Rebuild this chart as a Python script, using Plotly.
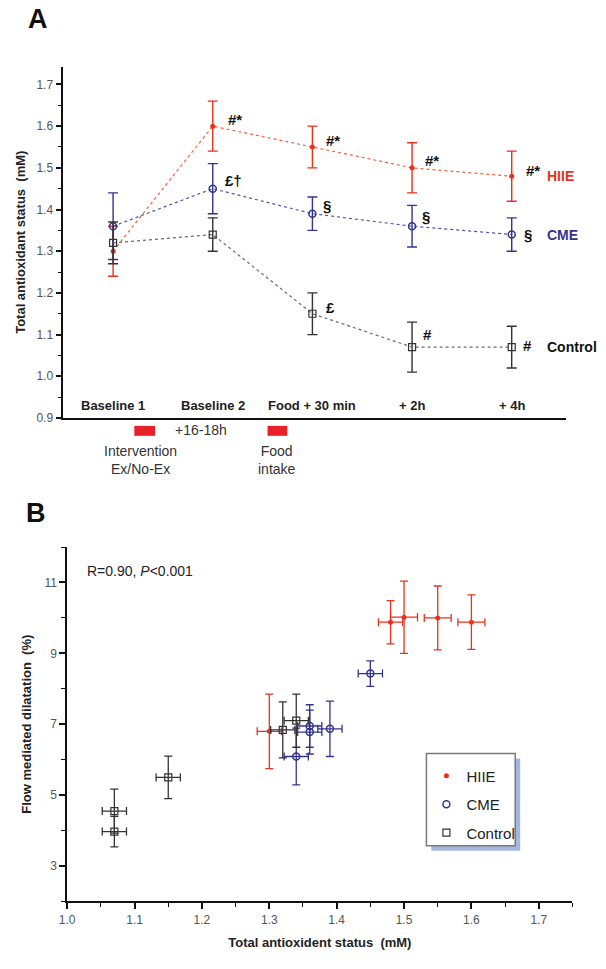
import plotly.graph_objects as go

W, H = 606, 969

# ---------------- Panel A data ----------------
timepoints = ["Baseline 1", "Baseline 2", "Food + 30 min", "+ 2h", "+ 4h"]
tp_pos = [0, 1, 2, 3, 4]

tas_hiie = [1.30, 1.60, 1.55, 1.50, 1.48]
tas_hiie_err = [0.06, 0.06, 0.05, 0.06, 0.06]
tas_cme = [1.36, 1.45, 1.39, 1.36, 1.34]
tas_cme_err = [0.08, 0.06, 0.04, 0.05, 0.04]
tas_ctrl = [1.32, 1.34, 1.15, 1.07, 1.07]
tas_ctrl_err = [0.05, 0.04, 0.05, 0.06, 0.05]

# significance marks per timepoint
sig_hiie = ["", "#*", "#*", "#*", "#*"]
sig_cme = ["", "£†", "§", "§", "§"]
sig_ctrl = ["", "", "£", "#", "#"]

# ---------------- Panel B data ----------------
fmd_hiie_x = [1.30, 1.60, 1.55, 1.50, 1.48]
fmd_hiie_xerr = [0.018, 0.02, 0.02, 0.02, 0.018]
fmd_hiie_y = [6.80, 9.88, 10.00, 10.02, 9.88]
fmd_hiie_yerr = [1.05, 0.77, 0.90, 1.02, 0.61]

fmd_cme_x = [1.36, 1.45, 1.39, 1.36, 1.34]
fmd_cme_xerr = [0.018, 0.018, 0.018, 0.018, 0.018]
fmd_cme_y = [6.95, 8.43, 6.87, 6.78, 6.09]
fmd_cme_yerr = [0.60, 0.36, 0.78, 0.62, 0.80]

fmd_ctrl_x = [1.32, 1.34, 1.15, 1.07, 1.07]
fmd_ctrl_xerr = [0.018, 0.018, 0.018, 0.018, 0.018]
fmd_ctrl_y = [6.84, 7.10, 5.50, 4.55, 3.97]
fmd_ctrl_yerr = [0.79, 0.75, 0.60, 0.62, 0.43]

RED = "#e8321e"
RED_LINE = "#f0643f"
BLUE = "#34348f"
BLUE_LINE = "#5151b0"
BLACK = "#333333"
BLACK_LINE = "#6a6a6a"
FONT = "Liberation Sans, Arial, sans-serif"


def px(x):
    return x / W


def py(y):
    return 1 - y / H


fig = go.Figure()

groups = [
    ("HIIE", tas_hiie, tas_hiie_err, RED, RED_LINE, dict(symbol="circle", size=5, color=RED)),
    ("CME", tas_cme, tas_cme_err, BLUE, BLUE_LINE,
     dict(symbol="circle-open", size=7, color=BLUE, line=dict(width=1.5, color=BLUE))),
    ("Control", tas_ctrl, tas_ctrl_err, BLACK, BLACK_LINE,
     dict(symbol="square-open", size=7, color=BLACK, line=dict(width=1.2, color=BLACK))),
]

for name, vals, errs, col, lcol, mk in groups:
    fig.add_trace(go.Scatter(
        x=tp_pos, y=vals, mode="lines+markers", name=name, showlegend=False,
        line=dict(color=lcol, width=1.2, dash="dot"),
        marker=mk,
        error_y=dict(type="data", array=errs, color=col, thickness=1.4, width=5),
        xaxis="x", yaxis="y",
    ))

# ---------------- Panel B traces ----------------
b_groups = [
    ("HIIE", fmd_hiie_x, fmd_hiie_xerr, fmd_hiie_y, fmd_hiie_yerr, RED,
     dict(symbol="circle", size=5, color=RED)),
    ("CME", fmd_cme_x, fmd_cme_xerr, fmd_cme_y, fmd_cme_yerr, BLUE,
     dict(symbol="circle-open", size=7, color=BLUE, line=dict(width=1.5, color=BLUE))),
    ("Control", fmd_ctrl_x, fmd_ctrl_xerr, fmd_ctrl_y, fmd_ctrl_yerr, BLACK,
     dict(symbol="square-open", size=7, color=BLACK, line=dict(width=1.2, color=BLACK))),
]
for name, x, xe, y, ye, col, mk in b_groups:
    fig.add_trace(go.Scatter(
        x=x, y=y, mode="markers", name=name, legendgroup=name,
        marker=mk,
        error_x=dict(type="data", array=xe, color=col, thickness=1.3, width=4),
        error_y=dict(type="data", array=ye, color=col, thickness=1.3, width=4),
        xaxis="x2", yaxis="y2",
    ))

# ---------------- annotations ----------------
ann = []
# category labels inside panel A
for pos, lab in zip(tp_pos, timepoints):
    ann.append(dict(x=pos, y=0.931, xref="x", yref="y", text=f"<b>{lab}</b>",
                    showarrow=False, font=dict(size=13, color="#222")))

# significance marks (pixel offsets from the point)
sig_offsets = {
    "HIIE": [(0, 0), (13, 7), (12, 6), (11, 7), (12, 6)],
    "CME": [(0, 0), (10, 8), (9, 8), (8, 10), (10, 0)],
    "Control": [(0, 0), (0, 0), (12, 6), (9, 13), (9, 2)],
}
for (name, vals, *_), sig in zip(groups, [sig_hiie, sig_cme, sig_ctrl]):
    for pos, v, s, off in zip(tp_pos, vals, sig, sig_offsets[name]):
        if s:
            ann.append(dict(x=pos, y=v, xref="x", yref="y", text=f"<b>{s}</b>",
                            showarrow=False, xanchor="left", xshift=off[0], yshift=off[1],
                            font=dict(size=15, color="#111")))

# group labels at right of panel A
for (name, vals, _e, col, *_r) in groups:
    ann.append(dict(x=tp_pos[-1], y=vals[-1], xref="x", yref="y", text=f"<b>{name}</b>",
                    showarrow=False, xanchor="left", xshift=33,
                    font=dict(size=14, color=col if name != "Control" else "#111")))


def paper_text(x, y, text, size=14, color="#333", xanchor="center"):
    return dict(x=px(x), y=py(y), xref="paper", yref="paper", text=text, showarrow=False,
                xanchor=xanchor, yanchor="middle", font=dict(size=size, color=color))


ann += [
    paper_text(196, 433, "+16-18h"),
    paper_text(134, 463, "Intervention<br>Ex/No-Ex"),
    paper_text(273, 463, "Food<br>intake"),
    paper_text(30, 19, "<b>A</b>", size=27, color="#111"),
    paper_text(28, 517, "<b>B</b>", size=27, color="#111"),
    paper_text(78, 575, "R=0.90, <i>P</i>&lt;0.001", color="#222", xanchor="left"),
]

shapes = [
    dict(type="rect", xref="paper", yref="paper", x0=px(128), x1=px(149), y0=py(439), y1=py(429),
         fillcolor="#e8202a", line=dict(width=0)),
    dict(type="rect", xref="paper", yref="paper", x0=px(263), x1=px(283), y0=py(439), y1=py(429),
         fillcolor="#e8202a", line=dict(width=0)),
    # legend box with shadow
    dict(type="rect", xref="paper", yref="paper", x0=px(429), x1=px(519), y0=py(857), y1=py(764),
         fillcolor="#a3b8e0", line=dict(width=0)),
    dict(type="rect", xref="paper", yref="paper", x0=px(424), x1=px(514), y0=py(852), y1=py(759),
         fillcolor="white", line=dict(color="#7a7a7a", width=1.5)),
]

axis_common = dict(showline=True, linecolor="#111", linewidth=1.5, showgrid=False, zeroline=False,
                   tickfont=dict(size=12, color="#555", family=FONT))

fig.update_layout(
    width=W, height=H,
    margin=dict(l=0, r=0, t=0, b=0),
    paper_bgcolor="white", plot_bgcolor="white",
    font=dict(family=FONT),
    xaxis=dict(domain=[px(56), px(565)], range=[-0.5, 4.54], showline=True, linecolor="#111",
               linewidth=1.5, showgrid=False, zeroline=False, showticklabels=False, ticks="",
               anchor="y"),
    yaxis=dict(domain=[py(421), py(67)], range=[0.9, 1.743], anchor="x",
               tickvals=[0.9, 1.0, 1.1, 1.2, 1.3, 1.4, 1.5, 1.6, 1.7],
               ticktext=["0.9", "1.0", "1.1", "1.2", "1.3", "1.4", "1.5", "1.6", "1.7"],
               ticks="outside", ticklen=6, tickwidth=1.5, tickcolor="#111",
               minor=dict(dtick=0.05, tick0=0.9, ticks="outside", ticklen=4, tickcolor="#111", tickwidth=1.2),
               title=dict(text="<b>Total antioxidant status  (mM)</b>", standoff=8,
                          font=dict(size=13, color="#222")),
               **axis_common),
    xaxis2=dict(domain=[px(60), px(572)], range=[1.0, 1.75], anchor="y2",
                tickvals=[1.0, 1.1, 1.2, 1.3, 1.4, 1.5, 1.6, 1.7],
                ticktext=["1.0", "1.1", "1.2", "1.3", "1.4", "1.5", "1.6", "1.7"],
                ticks="outside", ticklen=6, tickwidth=1.5, tickcolor="#111",
                minor=dict(dtick=0.05, tick0=1.0, ticks="outside", ticklen=4, tickcolor="#111", tickwidth=1.2),
                title=dict(text="<b>Total antioxident status  (mM)</b>", standoff=12,
                           font=dict(size=13, color="#222")),
                **axis_common),
    yaxis2=dict(domain=[py(908), py(551)], range=[2, 12], anchor="x2",
                tickvals=[3, 5, 7, 9, 11], ticktext=["3", "5", "7", "9", "11"],
                ticks="outside", ticklen=6, tickwidth=1.5, tickcolor="#111",
                minor=dict(dtick=1, tick0=2, ticks="outside", ticklen=4, tickcolor="#111", tickwidth=1.2),
                title=dict(text="<b>Flow mediated dilatation  (%)</b>", standoff=10,
                           font=dict(size=13, color="#222")),
                **axis_common),
    legend=dict(x=px(424), y=py(765), xanchor="left", yanchor="top",
                bgcolor="rgba(0,0,0,0)", borderwidth=0, tracegroupgap=6,
                font=dict(size=15, color="#222", family=FONT), itemwidth=30),
    annotations=ann,
    shapes=shapes,
)

# default page margin would push the figure 8px off the window
fig.write_html("out.html", config={"displayModeBar": False},
               post_script="document.body.style.margin='0';")
